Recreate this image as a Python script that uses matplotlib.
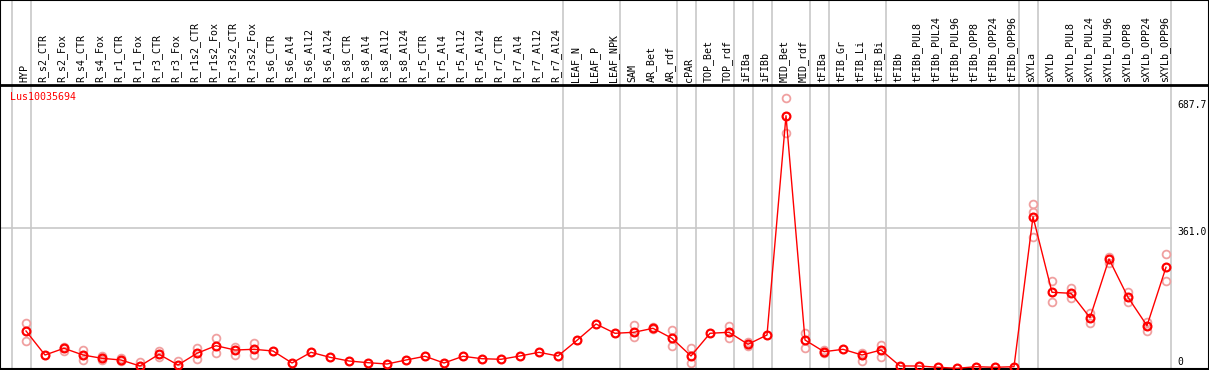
import numpy as np
import matplotlib
matplotlib.use("Agg")
from matplotlib import pyplot as plt

# %%
samples = [
    "HYP",
    "R_s2_CTR", "R_s2_Fox", "R_s4_CTR", "R_s4_Fox", "R_r1_CTR", "R_r1_Fox",
    "R_r3_CTR", "R_r3_Fox", "R_r1s2_CTR", "R_r1s2_Fox", "R_r3s2_CTR", "R_r3s2_Fox",
    "R_s6_CTR", "R_s6_Al4", "R_s6_Al12", "R_s6_Al24",
    "R_s8_CTR", "R_s8_Al4", "R_s8_Al12", "R_s8_Al24",
    "R_r5_CTR", "R_r5_Al4", "R_r5_Al12", "R_r5_Al24",
    "R_r7_CTR", "R_r7_Al4", "R_r7_Al12", "R_r7_Al24",
    "LEAF_N", "LEAF_P", "LEAF_NPK",
    "SAM", "AR_Bet", "AR_rdf", "cPAR", "TOP_Bet", "TOP_rdf", "iFIBa", "iFIBb",
    "MID_Bet", "MID_rdf", "tFIBa", "tFIB_Gr", "tFIB_Li", "tFIB_Bi",
    "tFIBb", "tFIBb_PUL8", "tFIBb_PUL24", "tFIBb_PUL96",
    "tFIBb_OPP8", "tFIBb_OPP24", "tFIBb_OPP96",
    "sXYLa", "sXYLb", "sXYLb_PUL8", "sXYLb_PUL24", "sXYLb_PUL96",
    "sXYLb_OPP8", "sXYLb_OPP24", "sXYLb_OPP96",
]

mean_expr = [
    97.5,
    35.9, 53.1, 35.9, 27.4, 23.1, 7.7,
    37.7, 10.3, 40.3, 59.8, 48.7, 50.5,
    46.2, 15.4, 42.8, 30.0,
    20.5, 16.2, 12.8, 23.1,
    32.6, 15.4, 32.6, 26.4,
    24.9, 33.4, 42.8, 33.4,
    73.6, 115.4, 91.6,
    94.2, 104.4, 78.8, 33.4, 91.6, 94.2, 63.4, 87.2,
    649.8, 74.4, 44.4, 50.5, 35.9, 48.7,
    7.7, 7.7, 4.4, 1.8,
    5.9, 4.4, 5.9,
    390.7, 196.8, 194.2, 131.6, 282.2,
    183.9, 111.1, 260.9,
]

nan = np.nan
rep_hi = [
    117.2,
    nan, 57.2, 48.7, 33.4, 29.0, 18.7,
    46.9, 21.3, 54.6, 80.3, 57.2, 65.9,
    nan, nan, nan, nan,
    nan, nan, nan, nan,
    nan, nan, nan, nan,
    nan, nan, nan, nan,
    nan, nan, nan,
    112.9, 108.5, 100.1, 53.1, nan, 111.1, 70.0, nan,
    694.5, 93.1, 48.7, nan, 40.3, 61.6,
    nan, nan, nan, nan,
    nan, nan, nan,
    423.3, 225.8, 207.0, 142.9, 288.1,
    196.8, 121.3, 295.0,
]

rep_lo = [
    71.1,
    nan, 46.9, 23.1, 23.1, 20.5, nan,
    31.6, nan, 25.7, 40.3, 35.9, 35.9,
    nan, nan, nan, nan,
    nan, nan, nan, nan,
    nan, nan, nan, nan,
    nan, nan, nan, nan,
    nan, nan, nan,
    82.9, 101.8, 59.8, 14.6, nan, 78.8, 59.0, nan,
    604.7, 53.1, 41.0, nan, 21.3, 30.0,
    nan, nan, nan, nan,
    nan, nan, nan,
    339.4, 171.1, 181.4, 118.8, 272.7,
    172.7, 98.3, 225.8,
]

rep_mid = [nan] * 53 + [402.0] + [nan] * 7

# group separators sit just after these sample indices
group_ends = [-1, 0, 28, 31, 34, 35, 37, 38, 39, 41, 42, 45, 52, 53, 60]

# %%
plt.rcParams["font.family"] = "DejaVu Sans Mono"
W, H = 1209, 370
fig = plt.figure(figsize=(W / 100, H / 100), dpi=100)

x = np.arange(len(samples))
x_lim = (-26 / 19, (W - 26) / 19)
y_lim = (0, 728.6)
grey = "#c8c8c8"

ax = fig.add_axes([0, 1 / H, 1, 284 / H])
hax = fig.add_axes([0, 285 / H, 1, 85 / H])

for a in (ax, hax):
    a.set_xlim(*x_lim)
    a.set_xticks([])
    a.set_yticks([])
    for sp in a.spines.values():
        sp.set_linewidth(1.5)
        sp.set_color("black")
    for g in group_ends:
        a.axvline(g + 0.25, color=grey, lw=1.2, zorder=0)

ax.set_ylim(*y_lim)
hax.set_ylim(0, 1)
hax.spines["bottom"].set_linewidth(2)

ax.plot([x_lim[0], 60.25], [361.0, 361.0], color=grey, lw=1.2, zorder=0)

# replicates
for reps in (rep_hi, rep_lo, rep_mid):
    ax.plot(x, reps, ls="none", marker="o", ms=5.6, mfc="none",
            mec="#f0a0a0", mew=1.3, zorder=2)

ax.plot(x, mean_expr, color="red", lw=1, zorder=3)
ax.plot(x, mean_expr, ls="none", marker="o", ms=5.6, mfc="none",
        mec="red", mew=1.6, zorder=4)

for i, name in enumerate(samples):
    hax.text(i - 0.1, 3 / 85, name, rotation=90, ha="center", va="bottom",
             fontsize=7.2, color="black")

xl = (1177 - 26) / 19
ax.text(xl, 677, "687.7", fontsize=7, ha="left", va="center")
ax.text(xl, 351, "361.0", fontsize=7, ha="left", va="center")
ax.text(xl, 18, "0", fontsize=7, ha="left", va="center")

fig.text(10 / W, 1 - 97 / H, "Lus10035694", color="red", fontsize=7.2,
         ha="left", va="center")

fig.savefig("out.png", dpi=100)
